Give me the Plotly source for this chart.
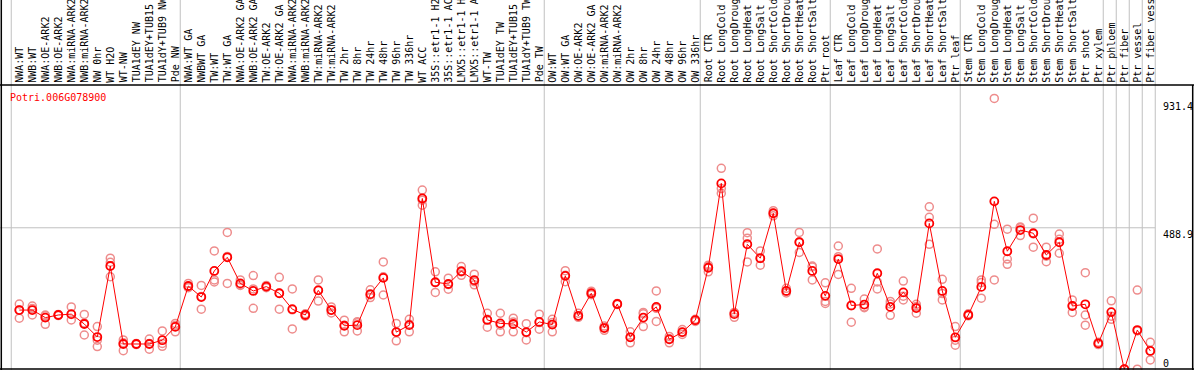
import plotly.graph_objects as go

gene = "Potri.006G078900"

labels = [
    "NWA:WT", "NWB:WT", "NWA:OE-ARK2", "NWB:OE-ARK2", "NWA:miRNA-ARK2", "NWB:miRNA-ARK2",
    "NW 0hr", "WT H2O", "WT-NW", "TUA1dEY NW", "TUA1dEY+TUB15 NW", "TUA1dY+TUB9 NW", "Pde NW",
    "NWA:WT GA", "NWBWT GA", "TW:WT", "TW:WT GA", "NWA:OE-ARK2 GA", "NWB:OE-ARK2 GA",
    "TW:OE-ARK2", "TW:OE-ARK2 GA", "NWA:miRNA-ARK2 GA", "NWB:miRNA-ARK2 GA", "TW:miRNA-ARK2",
    "TW:miRNA-ARK2 GA", "TW 2hr", "TW 8hr", "TW 24hr", "TW 48hr", "TW 96hr", "TW 336hr",
    "WT ACC", "35S::etr1-1 H2O", "35S::etr1-1 ACC", "LMX5::etr1-1 H2O", "LMX5::etr1-1 ACC",
    "WT-TW", "TUA1dEY TW", "TUA1dEY+TUB15 TW", "TUA1dY+TUB9 TW", "Pde TW",
    "OW:WT", "OW:WT GA", "OW:OE-ARK2", "OW:OE-ARK2 GA", "OW:miRNA-ARK2", "OW:miRNA-ARK2 GA",
    "OW 2hr", "OW 8hr", "OW 24hr", "OW 48hr", "OW 96hr", "OW 336hr",
    "Root CTR", "Root LongCold", "Root LongDrought", "Root LongHeat", "Root LongSalt",
    "Root ShortCold", "Root ShortDrought", "Root ShortHeat", "Root ShortSalt", "Ptr root",
    "Leaf CTR", "Leaf LongCold", "Leaf LongDrought", "Leaf LongHeat", "Leaf LongSalt",
    "Leaf ShortCold", "Leaf ShortDrought", "Leaf ShortHeat", "Leaf ShortSalt", "Ptr leaf",
    "Stem CTR", "Stem LongCold", "Stem LongDrought", "Stem LongHeat", "Stem LongSalt",
    "Stem ShortCold", "Stem ShortDrought", "Stem ShortHeat", "Stem ShortSalt", "Ptr shoot",
    "Ptr xylem", "Ptr phloem", "Ptr fiber", "Ptr vessel", "Ptr fiber vessel",
]

means = [
    205, 205, 179, 188, 191, 157, 112, 357, 88, 88, 88, 101, 147,
    288, 250, 340, 387, 297, 271, 286, 263, 208, 188, 273, 205, 151, 153, 260, 316, 129, 153,
    590, 301, 295, 339, 308, 171, 159, 157, 129, 164,
    155, 323, 185, 263, 143, 226, 111, 179, 216, 104, 129, 170,
    351, 642, 191, 432, 384, 539, 271, 439, 340, 254,
    381, 221, 224, 332, 216, 266, 212, 504, 271, 111,
    188, 285, 580, 408, 481, 470, 395, 439, 219, 225, 90,
    198, 1, 136, 64,
]

rep1 = [
    226, 219, 188, 190, 216, 190, 148, 384, 102, 88, 105, 133, 159,
    297, 290, 409, 473, 309, 324, 290, 318, 278, 192, 309, 216, 170, 165, 275, 371, 159, 173,
    619, 337, 315, 355, 329, 194, 194, 177, 158, 191,
    173, 341, 194, 270, 135, 226, 130, 197, 271, 114, 138, 173,
    360, 694, 180, 472, 409, 548, 280, 473, 357, 299,
    426, 280, 243, 416, 235, 305, 225, 561, 311, 148,
    192, 309, 935, 484, 489, 522, 422, 467, 240, 334, 94,
    237, 1, 274, 94,
]
rep2 = [
    177, 188, 156, 186, 171, 119, 101, 320, 65, 90, 70, 90, 130,
    285, 208, 309, 297, 290, 211, 282, 208, 140, 184, 236, 195, 130, 133, 248, 257, 99, 130,
    567, 266, 277, 325, 292, 146, 130, 130, 102, 139,
    130, 303, 180, 258, 150, 228, 92, 148, 166, 92, 121, 166,
    337, 608, 196, 371, 360, 530, 264, 404, 309, 228,
    328, 163, 213, 278, 187, 240, 194, 525, 240, 84,
    185, 246, 501, 381, 462, 422, 372, 401, 197, 153, 86,
    173, 1, 1, 33,
]
rep3 = [
    205, 210, 185, 188, 190, 160, 79, 370, 92, 86, 90, 80, 152,
    282, 252, 302, 390, 292, 278, 286, 263, 206, 188, 274, 205, 153, 161, 257, 320, 129, 156,
    584, 300, 293, 337, 303, 173, 153, 164, 127, 162,
    162, 325, 182, 262, 144, 224, 111, 192, 211, 106, 128, 171,
    356, 624, 197, 453, 383, 539, 270, 440, 354, 235,
    389, 220, 216, 302, 226, 253, 217, 432, 262, 101,
    187, 300, 309, 363, 492, 468, 391, 449, 220, 188, 90,
    184, 1, 133, 65,
]

# column index where each vertical separator sits
group_starts = [0, 13, 41, 53, 63, 73, 84, 85, 86, 87, 88]
ref_values = [931.4, 488.9, 0]

W, H = 1194, 370
n = len(labels)
xs = list(range(n))

# pixel geometry helpers
x0px, dxpx = 19.3, 13.0
xr = [(0 - x0px) / dxpx, (W - x0px) / dxpx]
zero_px, top_px = 369.5, 99.5
kpx = (zero_px - top_px) / ref_values[0]
yr = [(zero_px - H) / kpx, zero_px / kpx]

def xpx_to_data(p):
    return (p - x0px) / dxpx

def ypx_to_paper(p):
    return (H - p) / H

fig = go.Figure()

rx, ry = [], []
for i in xs:
    for r in (rep1, rep2, rep3):
        rx.append(i)
        ry.append(r[i])

fig.add_trace(go.Scatter(
    x=rx, y=ry, mode="markers",
    marker=dict(symbol="circle-open", size=8, color="rgb(238,140,140)",
                line=dict(width=1.5, color="rgb(238,140,140)")),
    hoverinfo="skip", showlegend=False,
))
fig.add_trace(go.Scatter(
    x=xs, y=means, mode="lines+markers",
    line=dict(color="#ff0000", width=1),
    marker=dict(symbol="circle-open", size=8, color="#ff0000",
                line=dict(width=1.8, color="#ff0000")),
    showlegend=False,
))

shapes = []
for g in group_starts:
    shapes.append(dict(type="line", xref="x", yref="paper", x0=g - 0.62, x1=g - 0.62,
                       y0=0, y1=1, line=dict(color="#c0c0c0", width=1), layer="below"))
shapes.append(dict(type="line", xref="paper", yref="y", x0=0,
                   x1=(xpx_to_data(1155.2) - xr[0]) / (xr[1] - xr[0]),
                   y0=ref_values[1], y1=ref_values[1], line=dict(color="#c0c0c0", width=1), layer="below"))
shapes.append(dict(type="line", xref="paper", yref="paper", x0=0, x1=1,
                   y0=ypx_to_paper(85), y1=ypx_to_paper(85), line=dict(color="black", width=1.5)))
shapes.append(dict(type="line", xref="paper", yref="paper", x0=1.3 / W, x1=1.3 / W,
                   y0=0, y1=1, line=dict(color="black", width=1.5)))
shapes.append(dict(type="line", xref="paper", yref="paper", x0=1192.7 / W, x1=1192.7 / W,
                   y0=0, y1=ypx_to_paper(85), line=dict(color="black", width=1.5)))
shapes.append(dict(type="line", xref="paper", yref="paper", x0=0, x1=1,
                   y0=ypx_to_paper(369), y1=ypx_to_paper(369), line=dict(color="black", width=1.5)))

annotations = []
font = dict(family="DejaVu Sans Mono", size=10, color="black")
for i, lab in enumerate(labels):
    annotations.append(dict(x=i, xref="x", y=ypx_to_paper(83.5), yref="paper",
                            text=lab, showarrow=False, textangle=-90,
                            xanchor="center", yanchor="bottom", font=font, borderpad=0))

annotations.append(dict(x=9 / W, xref="paper", y=ypx_to_paper(97.5), yref="paper",
                        text=gene, showarrow=False, xanchor="left", yanchor="middle",
                        font=dict(family="DejaVu Sans Mono", size=10, color="#ff0000"), borderpad=0))

for v in ref_values[:2]:
    annotations.append(dict(x=1162 / W, xref="paper", y=v, yref="y", text=f"{v}",
                            showarrow=False, xanchor="left", yanchor="top", font=font, borderpad=0))
annotations.append(dict(x=1162 / W, xref="paper", y=ref_values[2], yref="y", text="0",
                        showarrow=False, xanchor="left", yanchor="bottom", font=font, borderpad=0))

fig.update_layout(
    width=W, height=H,
    margin=dict(l=0, r=0, t=0, b=0),
    paper_bgcolor="white", plot_bgcolor="white",
    xaxis=dict(range=xr, visible=False, fixedrange=True),
    yaxis=dict(range=yr, visible=False, fixedrange=True),
    shapes=shapes, annotations=annotations,
)

fig.write_html("out.html",
               config=dict(displayModeBar=False),
               post_script="document.body.style.margin='0';document.body.style.padding='0';")
